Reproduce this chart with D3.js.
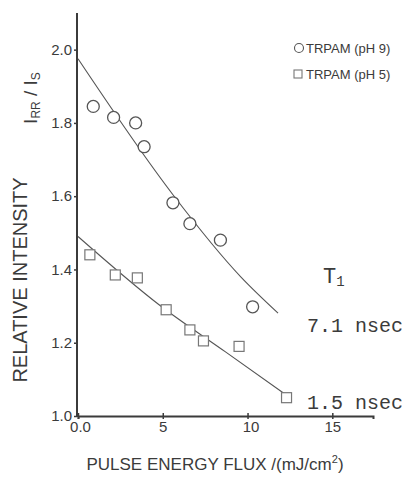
<!DOCTYPE html>
<html>
<head>
<meta charset="utf-8">
<script src="https://cdn.jsdelivr.net/npm/d3@7"></script>
<style>
  body { margin: 0; background: #fff; }
  svg { display: block; }
</style>
</head>
<body>
<svg id="chart" width="412" height="479"></svg>
<script>
// TRPAM, pH 9 (circles)
const flux9 = [0.9, 2.1, 3.4, 3.9, 5.6, 6.6, 8.4, 10.3];
const ratio9 = [1.845, 1.815, 1.80, 1.735, 1.582, 1.525, 1.48, 1.298];
// TRPAM, pH 5 (squares)
const flux5 = [0.7, 2.2, 3.5, 5.2, 6.6, 7.4, 9.5, 12.3];
const ratio5 = [1.44, 1.385, 1.377, 1.29, 1.235, 1.205, 1.19, 1.05];
// fitted curves drawn through the points
const fitX9 = [0, 5.6, 9.6, 11.8];
const fitY9 = [1.975, 1.604, 1.38, 1.281];
const fitX5 = [0, 4.8, 8.7, 12.2];
const fitY5 = [1.49, 1.303, 1.175, 1.06];

const xTicks = [0, 5, 10, 15];
const yTicks = [1.0, 1.2, 1.4, 1.6, 1.8, 2.0];
const legendLabels = ["TRPAM (pH 9)", "TRPAM (pH 5)"];
const t1Labels = ["7.1 nsec", "1.5 nsec"];

const svg = d3.select("#chart");
const ink = "#3b3b3b";
const sans = "Liberation Sans, Arial, sans-serif";

const x = d3.scaleLinear().domain([0, 17.4]).range([78, 373]);
const y = d3.scaleLinear().domain([1.0, 2.1]).range([416, 13]);

// axes
const xAxis = svg.append("g")
  .attr("transform", `translate(0,${y(1.0)})`)
  .call(d3.axisBottom(x).tickValues(xTicks).tickSize(3)
    .tickFormat(d => d === 0 ? "0.0" : d))
xAxis.select(".domain").attr("stroke", ink).attr("stroke-width", 2)
xAxis.selectAll(".tick line").attr("stroke", ink).attr("y1", -3).attr("stroke-width", 1.5)
xAxis.selectAll(".tick text")
  .attr("fill", ink).attr("font-family", sans)
  .attr("font-size", 15).attr("dy", "0.9em").attr("y", 2)
  .attr("dx", d => d === 0 ? 2 : (d === 10 ? 3 : 0))

const yAxis = svg.append("g")
  .attr("transform", `translate(${x(0) - 1},0)`)
  .call(d3.axisLeft(y).tickValues(yTicks).tickSize(3).tickFormat(d3.format(".1f")))
yAxis.select(".domain").attr("stroke", ink).attr("stroke-width", 2)
  .attr("d", `M0,${y(1.0) + 1}V${y(2.1)}`)
yAxis.selectAll(".tick line").attr("stroke", ink).attr("stroke-width", 1.5)
yAxis.selectAll(".tick text")
  .attr("fill", ink).attr("font-family", sans)
  .attr("font-size", 15).attr("x", -5)

// fit lines
const line = d3.line().x(d => x(d[0])).y(d => y(d[1])).curve(d3.curveMonotoneX)
svg.append("path")
  .attr("d", line(d3.zip(fitX9, fitY9)))
  .attr("fill", "none").attr("stroke", "#555").attr("stroke-width", 1.1)
svg.append("path")
  .attr("d", line(d3.zip(fitX5, fitY5)))
  .attr("fill", "none").attr("stroke", "#555").attr("stroke-width", 1.1)

// data points
svg.append("g").selectAll("circle")
  .data(d3.zip(flux9, ratio9))
  .join("circle")
  .attr("cx", d => x(d[0])).attr("cy", d => y(d[1])).attr("r", 6)
  .attr("fill", "#fff").attr("stroke", "#555").attr("stroke-width", 1.3)

svg.append("g").selectAll("rect")
  .data(d3.zip(flux5, ratio5))
  .join("rect")
  .attr("x", d => x(d[0]) - 5).attr("y", d => y(d[1]) - 5)
  .attr("width", 10).attr("height", 10)
  .attr("fill", "#fff").attr("stroke", "#777").attr("stroke-width", 1.2)

// legend
const legend = svg.append("g").attr("font-family", sans)
  .attr("font-size", 13).attr("fill", ink)
legend.append("circle").attr("cx", 299).attr("cy", 48).attr("r", 4.5)
  .attr("fill", "none").attr("stroke", "#555").attr("stroke-width", 1.1)
legend.append("rect").attr("x", 294).attr("y", 70).attr("width", 8).attr("height", 8)
  .attr("fill", "none").attr("stroke", "#777").attr("stroke-width", 1.1)
legend.selectAll("text")
  .data(legendLabels)
  .join("text")
  .attr("x", 306).attr("y", (d, i) => 53 + i * 26)
  .text(d => d)

// T1 labels
const mono = "Liberation Mono, DejaVu Sans Mono, monospace"
const t1 = svg.append("text").attr("x", 323).attr("y", 283)
  .attr("font-family", mono).attr("font-size", 22).attr("fill", ink)
t1.append("tspan").text("T")
t1.append("tspan").attr("font-size", 14).attr("dy", 3).text("1")

svg.selectAll(".t1val")
  .data(t1Labels)
  .join("text")
  .attr("class", "t1val")
  .attr("x", 307).attr("y", (d, i) => [332, 409][i])
  .attr("font-family", mono).attr("font-size", 20).attr("fill", ink)
  .text(d => d)

// axis titles
svg.append("text")
  .attr("transform", "translate(27,280) rotate(-90)")
  .attr("text-anchor", "middle")
  .attr("font-family", sans)
  .attr("font-size", 20).attr("fill", ink)
  .text("RELATIVE INTENSITY")

const ratioLabel = svg.append("text")
  .attr("transform", "translate(37,98) rotate(-90)")
  .attr("text-anchor", "middle")
  .attr("font-family", sans)
  .attr("font-size", 19).attr("fill", ink)
ratioLabel.append("tspan").text("I")
ratioLabel.append("tspan").attr("font-size", 12).attr("dy", 3).text("RR")
ratioLabel.append("tspan").attr("dy", -3).text(" / I")
ratioLabel.append("tspan").attr("font-size", 12).attr("dy", 3).text("S")

const xTitle = svg.append("text")
  .attr("x", 215).attr("y", 470)
  .attr("text-anchor", "middle")
  .attr("font-family", sans)
  .attr("font-size", 17).attr("fill", ink)
xTitle.append("tspan").text("PULSE ENERGY FLUX /(mJ/cm")
xTitle.append("tspan").attr("font-size", 11).attr("dy", -7).text("2")
xTitle.append("tspan").attr("dy", 7).text(")")
</script>
</body>
</html>
